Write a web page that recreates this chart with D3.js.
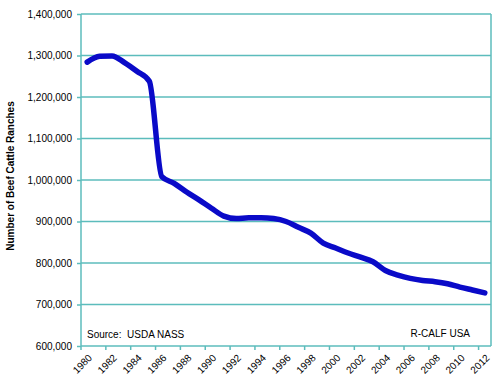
<!DOCTYPE html>
<html lang="en">
<head>
  <meta charset="UTF-8">
  <title>Number of Beef Cattle Ranches</title>
  <script src="https://d3js.org/d3.v7.min.js"></script>
  <style>
    body { margin: 0; background: #fff; }
    text { font-family: "Liberation Sans", Arial, sans-serif; fill: #000; }
    .grid line { stroke: #5cbcbc; stroke-width: 1.5; }
    .axis-title { font-weight: bold; font-size: 10px; }
  </style>
</head>
<body>
<div id="chart"></div>
<script>
  // data
  const years = d3.range(1980, 2013);
  const ranches = [
    1284000, 1298000, 1299000, 1283000, 1262000, 1238000, 1008000, 992000,
    971000, 952000, 932000, 913000, 907000, 909000, 909000, 907000,
    900000, 886000, 872000, 848000, 836000, 824000, 814000, 803000,
    782000, 771000, 763000, 758000, 755000, 750000, 742000, 735000, 728000
  ];
  const yTicks = [600000, 700000, 800000, 900000, 1000000, 1100000, 1200000, 1300000, 1400000];
  const xLabels = years.filter(y => y % 2 === 0);

  const W = 500, H = 387;
  const plotL = 81, plotR = 491, plotT = 14, plotB = 346;

  const svg = d3.select("#chart").append("svg")
    .attr("width", W).attr("height", H);

  const x = d3.scaleBand().domain(years).range([plotL, plotR]).padding(0);
  const y = d3.scaleLinear().domain([600000, 1400000]).range([plotB, plotT]);

  // gridlines
  svg.append("g").attr("class", "grid")
    .selectAll("line").data(yTicks).enter().append("line")
    .attr("x1", plotL).attr("x2", plotR)
    .attr("y1", d => y(d)).attr("y2", d => y(d));

  // plot frame (left, right)
  svg.append("line").attr("x1", plotL).attr("x2", plotL).attr("y1", plotT).attr("y2", plotB)
    .attr("stroke", "#5cbcbc").attr("stroke-width", 1.5);
  svg.append("line").attr("x1", plotR).attr("x2", plotR).attr("y1", plotT).attr("y2", plotB)
    .attr("stroke", "#5cbcbc").attr("stroke-width", 1.5);

  // y axis
  const yAxis = svg.append("g")
    .attr("transform", `translate(${plotL},0)`)
    .call(d3.axisLeft(y).tickValues(yTicks).tickSize(4).tickPadding(5)
      .tickFormat(d3.format(",")));
  yAxis.select(".domain").remove();
  yAxis.selectAll("line").attr("stroke", "#5cbcbc").attr("stroke-width", 1.5);
  yAxis.selectAll("text").attr("font-size", "10px").attr("fill", "#000")
    .attr("font-family", "Liberation Sans, Arial, sans-serif");

  // x axis: ticks at every second category boundary
  const boundaries = d3.range(0, years.length + 1, 2).map(i => plotL + i * x.bandwidth());
  svg.append("g").selectAll("line").data(boundaries).enter().append("line")
    .attr("x1", d => d).attr("x2", d => d)
    .attr("y1", plotB).attr("y2", plotB + 4)
    .attr("stroke", "#5cbcbc").attr("stroke-width", 1.5);

  svg.append("g").selectAll("text").data(xLabels).enter().append("text")
    .attr("transform", d => `translate(${x(d) + x.bandwidth() / 2 + 3},${plotB + 10}) rotate(-45)`)
    .attr("text-anchor", "end")
    .attr("dominant-baseline", "central")
    .attr("font-size", "10px")
    .text(d => d);

  // line
  const line = d3.line()
    .x((d, i) => x(years[i]) + x.bandwidth() / 2)
    .y(d => y(d))
    .curve(d3.curveMonotoneX);

  svg.append("path")
    .datum(ranches)
    .attr("d", line)
    .attr("fill", "none")
    .attr("stroke", "#0a0ac8")
    .attr("stroke-width", 5.5)
    .attr("stroke-linejoin", "round")
    .attr("stroke-linecap", "round");

  // axis title
  svg.append("text")
    .attr("class", "axis-title")
    .attr("transform", "translate(14,176) rotate(-90)")
    .attr("text-anchor", "middle")
    .text("Number of Beef Cattle Ranches");

  // notes
  svg.append("text").attr("x", 87).attr("y", 338).attr("font-size", "10px")
    .attr("xml:space", "preserve").text("Source:  USDA NASS");
  svg.append("text").attr("x", 470).attr("y", 337).attr("font-size", "10px")
    .attr("text-anchor", "end").text("R-CALF USA");
</script>
</body>
</html>
